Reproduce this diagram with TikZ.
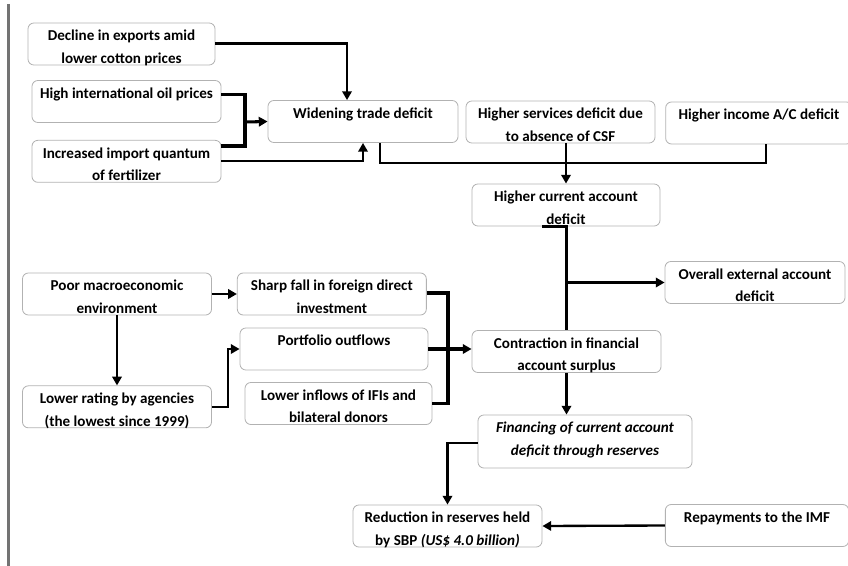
\documentclass[tikz,border=0pt]{standalone}
\usepackage{fontspec}
\setmainfont{Carlito}
\usetikzlibrary{positioning,arrows.meta}

% two text lines, sitting low in the box as in the original chart
\newcommand{\boxlines}[3][1.4pt]{\rule{0pt}{15pt}#2\\\smash{#3}\rule[-#1]{0pt}{0pt}}

\begin{document}
\begin{tikzpicture}[
  x=0.03cm, y=-0.03cm,
  >={Triangle[length=7.5pt,width=8pt]},
  boxbase/.style={draw=black!30, line width=0.7pt, rounded corners=5pt,
    inner sep=0pt, align=center},
  box/.style={boxbase, minimum width=#1, minimum height=1.26cm,
    font=\fontsize{12.9}{19.2}\selectfont\bfseries},
  box/.default=5.67cm,
  tallbox/.style={boxbase, minimum width=#1, minimum height=1.59cm,
    font=\fontsize{12.9}{19.5}\selectfont\bfseries\itshape},
  link/.style={line width=2pt, line join=miter},
  bracket/.style={line width=2.6pt, line join=miter}
]
  \useasboundingbox (0,0) rectangle (848,566);
  \draw[black!55, line width=1.8pt] (8.5,4) -- (8.5,566);

  % Current account side
  \node[box=5.61cm] (decline) at (121.5,44) {\boxlines{Decline in exports amid}{lower cotton prices}};
  \node[box] (oil) at (126.5,101.5) {\boxlines{High international oil prices}{}};
  \node[box,below=0.51cm of oil] (import) {\boxlines{Increased import quantum}{of fertilizer}};
  \node[box=5.7cm] (widen) at (363,121.5) {\boxlines{Widening trade deficit}{}};
  \node[box] (services) at (560.5,122) {\boxlines{Higher services deficit due}{to absence of CSF}};
  \node[box=5.6cm] (income) at (759,123) {\boxlines{Higher income A/C deficit}{}};
  \node[box=5.64cm] (current) at (566,205) {\boxlines{Higher current account}{deficit}};
  \node[box=5.4cm] (overall) at (755,282.5) {\boxlines{Overall external account}{deficit}};

  % Financial account side
  \node[box] (poor) at (117,294) {\boxlines{Poor macroeconomic}{environment}};
  \node[box,right=0.75cm of poor] (sharp) {\boxlines{Sharp fall in foreign direct}{investment}};
  \node[box=5.64cm] (portfolio) at (334,349) {\boxlines{Portfolio outflows}{}};
  \node[box,below=2.1cm of poor] (rating) {\boxlines{Lower rating by agencies}{(the lowest since 1999)}};
  \node[box=5.61cm] (inflows) at (338.5,403.5) {\boxlines{Lower inflows of IFIs and}{bilateral donors}};
  \node[box] (contraction) at (566.5,351.5) {\boxlines{Contraction in financial}{account surplus}};

  % Reserves
  \node[tallbox=6.42cm] (financing) at (585,441.5) {\boxlines[10.5pt]{Financing of current account}{deficit through reserves}};
  \node[box] (reduction) at (447.5,526) {\boxlines{Reduction in reserves held}{by SBP \textit{(US\$ 4.0 billion)}}};
  \node[box=5.5cm] (repay) at (757,525.5) {\boxlines{Repayments to the IMF}{}};

  \coordinate (oilj) at (245,122);
  \coordinate (tradej) at (567,163);
  \coordinate (finj) at (448,349);

  \draw[link,->] ([yshift=0.02cm]decline.east) -| ([xshift=-0.48cm]widen.north);
  \draw[bracket] ([yshift=0.2cm]oil.east) -| (oilj) |- ([yshift=0.46cm]import.east);
  \draw[bracket,->] (oilj) -- (widen.west);
  \draw[link,->] (import.east) -| (widen.south);
  \draw[link] ([xshift=0.51cm]widen.south) |- (tradej) -| ([xshift=0.21cm]income.south);
  \draw[link,->] (services.south -| current.north) -- (current.north);
  \draw[link] ([xshift=-0.72cm]current.south) -| (contraction.north);
  \draw[link,->] (current.south |- overall.west) -- (overall.west);

  \draw[link,->] (poor.east) -- (sharp.west);
  \draw[link,->] (poor.south) -- (rating.north);
  \draw[link,->] (rating.east) -- ++(0.48cm,0) |- (portfolio.west);
  \draw[bracket] ([yshift=0.03cm]sharp.east) -| (finj) |- (inflows.east);
  \draw[bracket,->] (portfolio.east) -- (contraction.west |- portfolio.east);

  \draw[link,->] (contraction.south) -- (contraction.south |- financing.north);
  \draw[link,->] ([yshift=-0.05cm]financing.west) -| (reduction.north);
  \draw[link,->] (repay.west) -- (reduction.east);
\end{tikzpicture}
\end{document}
